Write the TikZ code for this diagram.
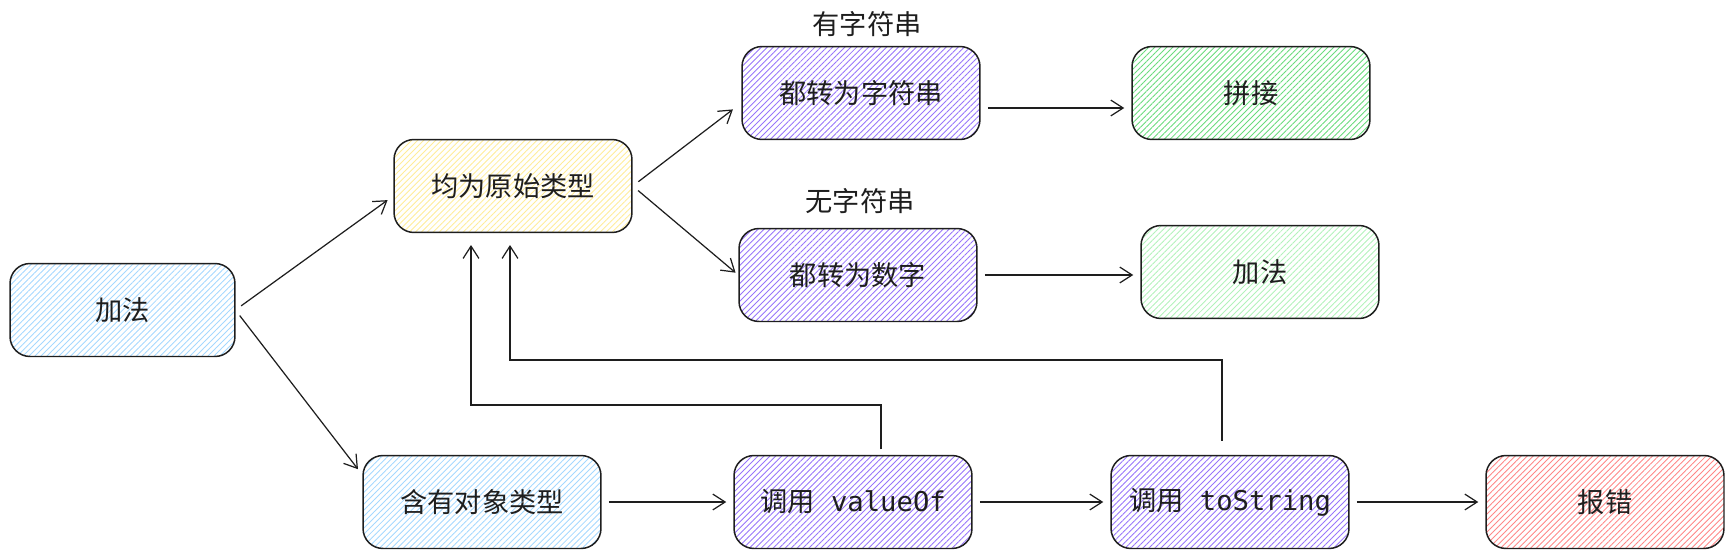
\documentclass[tikz,border=0pt]{standalone}
\usepackage{fontspec}
\setmainfont{Noto Sans CJK SC}
\setmonofont{DejaVu Sans Mono}
\usetikzlibrary{arrows.meta,patterns.meta}
\definecolor{hblue}{HTML}{A5D8FF}
\definecolor{hyellow}{HTML}{FFEC99}
\definecolor{hpurple}{HTML}{9775FA}
\definecolor{hgreen}{HTML}{69DB7C}
\definecolor{hlgreen}{HTML}{B2F2BB}
\definecolor{hred}{HTML}{FF8787}
\definecolor{ink}{HTML}{1E1E1E}
\begin{document}
\begin{tikzpicture}[x=0.02cm, y=-0.02cm,
        box/.style={draw=ink, line width=0.85pt, rounded corners=0.4cm,
            minimum width=4.76cm, minimum height=1.86cm, text=ink,
            font=\fontsize{15.5}{18}\selectfont,
            pattern={Lines[angle=45, distance=2.4pt, line width=0.5pt]}},
        arr/.style={draw=ink, line width=0.7pt,
            -{Straight Barb[length=7pt, width=9pt]},
            shorten <=4pt, shorten >=4pt},
        lbl/.style={text=ink, font=\fontsize{15.5}{18}\selectfont}]
    \useasboundingbox (0,0) rectangle (1734,558);

    \node[box, pattern color=hblue, minimum width=4.5cm] (add) at (122.5,310) {加法};
    \node[box, pattern color=hyellow] (prim) at (513,186) {均为原始类型};
    \node[box, pattern color=hpurple] (str) at (861,93) {都转为字符串};
    \node[box, pattern color=hgreen] (join) at (1251,93) {拼接};
    \node[box, pattern color=hpurple] (num) at (858,275) {都转为数字};
    \node[box, pattern color=hlgreen] (sum) at (1260,272) {加法};
    \node[box, pattern color=hblue] (obj) at (482,502) {含有对象类型};
    \node[box, pattern color=hpurple] (vo) at (853,502) {调用\texttt{\ valueOf}};
    \node[box, pattern color=hpurple] (ts) at (1230,502) {调用\texttt{\ toString}};
    \node[box, pattern color=hred] (err) at (1605,502) {报错};

    \node[lbl] (hasstr) at (867,24) {有字符串};
    \node[lbl] (nostr) at (860,201) {无字符串};

    \coordinate (vup) at (881,405);
    \coordinate (vin) at (471,245);
    \coordinate (tup) at (1222,360);
    \coordinate (tin) at (510,245);

    \draw[arr] (add.east) -- ([yshift=-0.2cm]prim.west);
    \draw[arr] (add.east) -- ([yshift=-0.4cm]obj.north west);
    \draw[arr, shorten >=6pt] (prim.east) -- ([yshift=-0.2cm]str.west);
    \draw[arr, shorten >=2pt] (prim.east) -- (num.west);
    \draw[arr] ([yshift=-0.3cm]str.east) -- ([yshift=-0.3cm]join.west);
    \draw[arr] (num.east) -- (num.east -| sum.west);
    \draw[arr] (obj.east) -- (vo.west);
    \draw[arr] (vo.east) -- (ts.west);
    \draw[arr] (ts.east) -- (err.west);
    \draw[arr, shorten <=3pt, shorten >=0pt] (vo.north -| vup) -- (vup) -| (vin);
    \draw[arr, shorten <=8pt, shorten >=0pt] (ts.north -| tup) -- (tup) -| (tin);
\end{tikzpicture}
\end{document}
